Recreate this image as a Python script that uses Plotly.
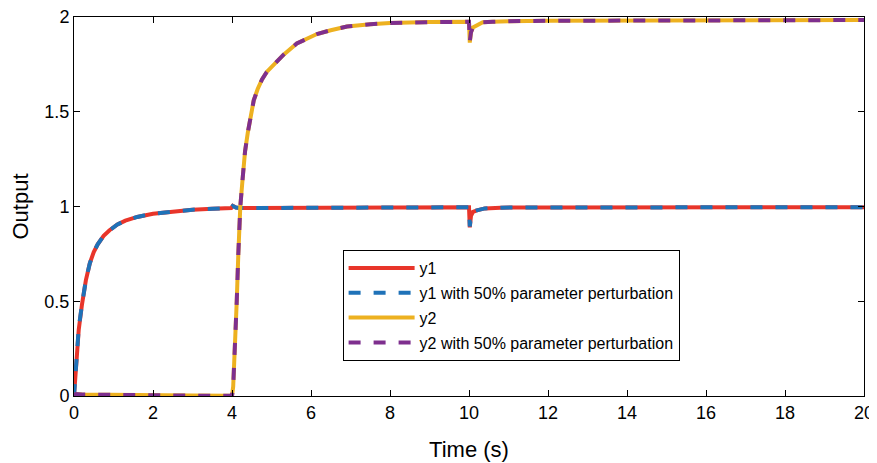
import plotly.graph_objects as go

# ---- data ----
t1 = [0, 0.03, 0.07, 0.12, 0.2, 0.3, 0.4, 0.5, 0.6, 0.75, 0.9, 1.1, 1.3, 1.6, 2.0, 2.5, 3.0,
      3.5, 3.98, 4.02, 4.1, 4.2, 5, 6, 8, 10.0, 10.02, 10.05, 10.1, 10.2, 10.4, 10.8, 12, 14, 16, 18, 20]
y1 = [0, 0.1, 0.22, 0.35, 0.48, 0.61, 0.7, 0.76, 0.8, 0.845, 0.875, 0.905, 0.925, 0.945, 0.962, 0.975, 0.983,
      0.988, 0.992, 1.004, 0.995, 0.992, 0.993, 0.994, 0.995, 0.996, 0.89, 0.95, 0.972, 0.98, 0.99, 0.994, 0.995, 0.996, 0.996, 0.996, 0.996]
y1_pert = [0, 0.1, 0.23, 0.36, 0.48, 0.61, 0.7, 0.76, 0.8, 0.845, 0.875, 0.905, 0.925, 0.945, 0.962, 0.975, 0.983,
           0.988, 0.992, 1.003, 0.995, 0.992, 0.993, 0.994, 0.995, 0.996, 0.895, 0.95, 0.972, 0.98, 0.99, 0.994, 0.995, 0.996, 0.996, 0.996, 0.996]

t2 = [0, 0.05, 0.2, 1, 2, 3, 3.95, 4.0, 4.03, 4.08, 4.12, 4.16, 4.21, 4.27, 4.33, 4.4, 4.46, 4.55, 4.65,
      4.76, 4.88, 5.14, 5.3, 5.64, 5.9, 6.15, 6.5, 6.91, 7.5, 8, 9, 10.0, 10.02, 10.05, 10.1, 10.2, 10.35,
      10.6, 11, 12, 14, 16, 18, 20]
y2 = [0, 0.01, 0.008, 0.005, 0.003, 0.002, 0.001, 0, 0.05, 0.25, 0.5, 0.75, 1.0, 1.15, 1.29, 1.39, 1.47, 1.56, 1.62,
      1.67, 1.71, 1.77, 1.8, 1.86, 1.885, 1.91, 1.93, 1.95, 1.962, 1.968, 1.973, 1.975, 1.865, 1.92, 1.945, 1.958, 1.972,
      1.975, 1.978, 1.98, 1.982, 1.983, 1.984, 1.984]
y2_pert = [0, 0.01, 0.008, 0.005, 0.003, 0.002, 0.001, 0, 0.05, 0.25, 0.5, 0.75, 1.0, 1.15, 1.29, 1.39, 1.47, 1.56, 1.62,
           1.67, 1.71, 1.77, 1.8, 1.86, 1.885, 1.91, 1.93, 1.95, 1.962, 1.968, 1.973, 1.975, 1.87, 1.92, 1.945, 1.958, 1.972,
           1.975, 1.978, 1.98, 1.982, 1.983, 1.984, 1.984]

names = ["y1", "y1 with 50% parameter perturbation", "y2", "y2 with 50% parameter perturbation"]
x_ticks = [0, 2, 4, 6, 8, 10, 12, 14, 16, 18, 20]
y_ticks = [0, 0.5, 1, 1.5, 2]
y_tick_labels = ["0", "0.5", "1", "1.5", "2"]

FONT = "Liberation Sans, Arial, Helvetica, sans-serif"

fig = go.Figure()
fig.add_trace(go.Scatter(x=t1, y=y1, mode="lines", name=names[0], legendgroup="a",
                         line=dict(color="#E8352A", width=4)))
fig.add_trace(go.Scatter(x=t1, y=y1_pert, mode="lines", name=names[1], legendgroup="b",
                         line=dict(color="#1F72B8", width=4, dash="12px,13px")))
fig.add_trace(go.Scatter(x=t2, y=y2, mode="lines", name=names[2], legendgroup="c",
                         line=dict(color="#EDB120", width=4)))
fig.add_trace(go.Scatter(x=t2, y=y2_pert, mode="lines", name=names[3], legendgroup="d",
                         line=dict(color="#7E2F8E", width=4, dash="12px,13px")))

axis_common = dict(showgrid=False, zeroline=False, showline=True, linecolor="black", linewidth=1,
                   mirror="ticks", ticks="inside", ticklen=6, tickcolor="black", tickwidth=1,
                   automargin=False, ticklabeloverflow="allow",
                   tickfont=dict(size=18, color="black", family=FONT))

fig.update_xaxes(range=[0, 20], tickvals=x_ticks,
                 title=dict(text="Time (s)", font=dict(size=22, color="black", family=FONT), standoff=20),
                 **axis_common)
fig.update_yaxes(range=[0, 2], tickvals=y_ticks, ticktext=y_tick_labels,
                 title=dict(text="Output", font=dict(size=22, color="black", family=FONT), standoff=12),
                 **axis_common)

# the page body has an 8px margin, so the figure is sized/offset to compensate
fig.update_layout(
    width=869, height=455,
    margin=dict(l=66, r=13, t=9, b=67),
    plot_bgcolor="white", paper_bgcolor="white",
    font=dict(family=FONT, color="black"),
    legend=dict(x=0.34, y=0.385, xanchor="left", yanchor="top",
                bgcolor="white", bordercolor="black", borderwidth=1,
                font=dict(size=16, color="black", family=FONT),
                tracegroupgap=1, itemwidth=66),
    showlegend=True,
)

fig.write_html("out.html")
